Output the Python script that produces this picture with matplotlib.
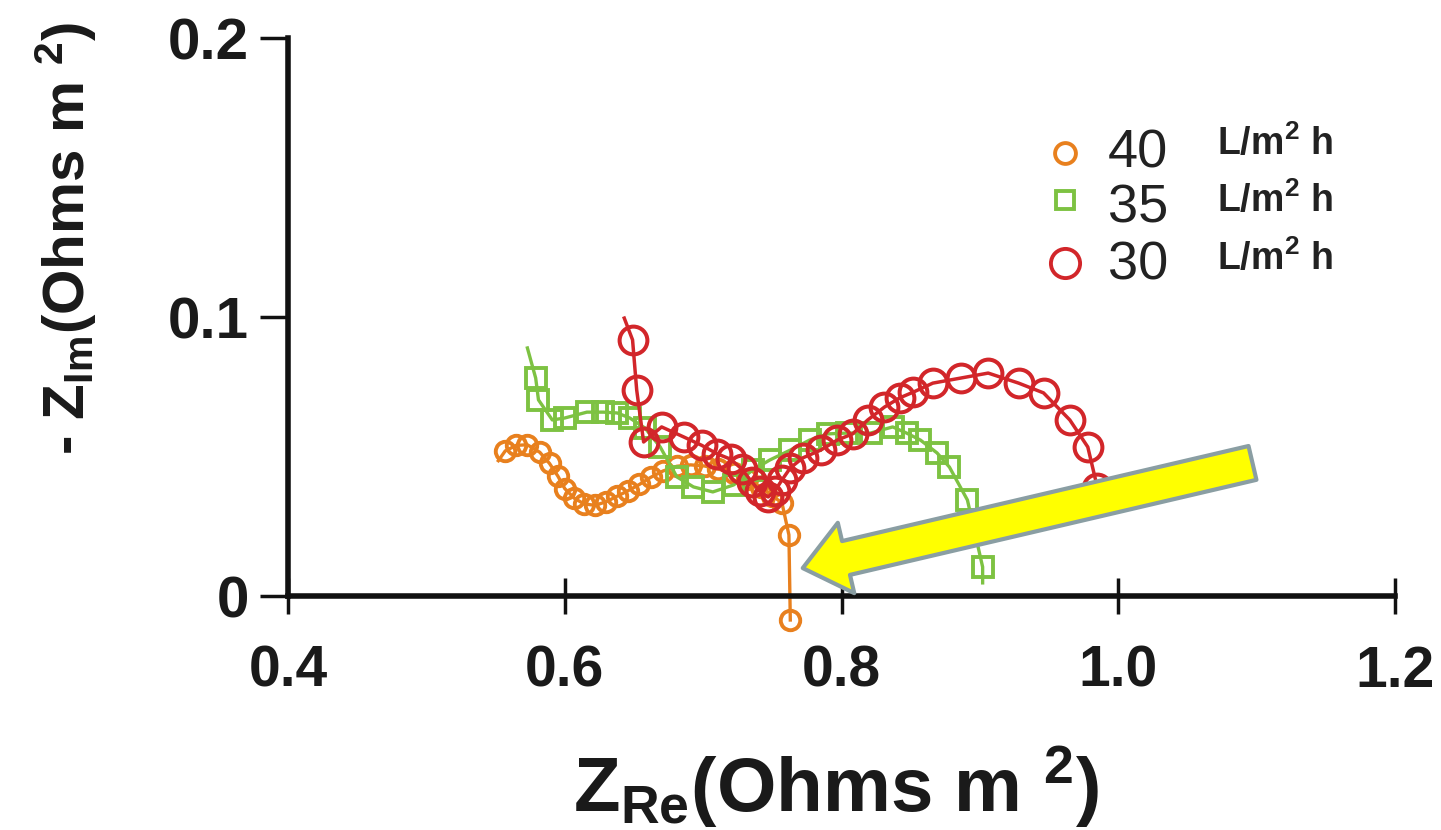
import matplotlib
matplotlib.use("Agg")
import matplotlib.pyplot as plt

plt.rcParams["font.family"] = ["Liberation Sans", "DejaVu Sans"]
plt.rcParams["mathtext.fontset"] = "custom"
plt.rcParams["mathtext.rm"] = "Liberation Sans:bold"
plt.rcParams["mathtext.bf"] = "Liberation Sans:bold"
plt.rcParams["mathtext.it"] = "Liberation Sans:bold"

# data (Z_Re, -Z_Im in Ohms m2)
x_40 = [0.552, 0.557, 0.565, 0.573, 0.582, 0.589, 0.595, 0.600, 0.607, 0.614,
        0.622, 0.630, 0.638, 0.646, 0.654, 0.662, 0.671, 0.681, 0.691, 0.701,
        0.711, 0.722, 0.732, 0.742, 0.750, 0.757, 0.762, 0.763]
y_40 = [0.0485, 0.0520, 0.0540, 0.0542, 0.0515, 0.0475, 0.0430, 0.0385, 0.0350, 0.0330,
        0.0325, 0.0338, 0.0358, 0.0378, 0.0400, 0.0425, 0.0448, 0.0465, 0.0470, 0.0466,
        0.0455, 0.0440, 0.0418, 0.0390, 0.0360, 0.0333, 0.0219, -0.0086]

x_35 = [0.573, 0.579, 0.581, 0.591, 0.600, 0.616, 0.628, 0.638, 0.647, 0.658,
        0.669, 0.681, 0.693, 0.707, 0.722, 0.736, 0.748, 0.763, 0.777, 0.790,
        0.804, 0.821, 0.837, 0.847, 0.857, 0.869, 0.878, 0.891, 0.902, 0.902]
y_35 = [0.0889, 0.0781, 0.0703, 0.0631, 0.0638, 0.0659, 0.0659, 0.0656, 0.0638, 0.0602,
        0.0534, 0.0427, 0.0391, 0.0373, 0.0398, 0.0452, 0.0487, 0.0523, 0.0559, 0.0581,
        0.0584, 0.0584, 0.0606, 0.0584, 0.0559, 0.0513, 0.0462, 0.0344, 0.0104, 0.0047]

x_30 = [0.643, 0.649, 0.652, 0.657, 0.670, 0.686, 0.699, 0.710, 0.720, 0.728,
        0.735, 0.741, 0.747, 0.752, 0.757, 0.763, 0.772, 0.785, 0.797, 0.808,
        0.819, 0.831, 0.842, 0.852, 0.866, 0.886, 0.906, 0.928, 0.946, 0.965,
        0.978, 0.985]
y_30 = [0.0996, 0.0918, 0.0738, 0.0552, 0.0606, 0.0570, 0.0540, 0.0510, 0.0490, 0.0455,
        0.0410, 0.0375, 0.0355, 0.0378, 0.0416, 0.0459, 0.0495, 0.0523, 0.0559, 0.0581,
        0.0631, 0.0677, 0.0710, 0.0731, 0.0763, 0.0781, 0.0799, 0.0763, 0.0728, 0.0631,
        0.0534, 0.0387]

series_labels = ["40", "35", "30"]
unit_label = "L/m$^{\\mathbf{2}}$ h"
x_ticks = [0.4, 0.6, 0.8, 1.0, 1.2]
x_tick_labels = ["0.4", "0.6", "0.8", "1.0", "1.2"]
y_ticks = [0, 0.1, 0.2]
y_tick_labels = ["0", "0.1", "0.2"]

c_orange = "#e8801e"
c_green = "#7dc242"
c_red = "#d2262a"

W, H = 1441, 830
fig = plt.figure(figsize=(W / 100, H / 100), dpi=100)
ax = fig.add_axes([288 / W, (H - 596) / H, (1395 - 288) / W, (596 - 38) / H])

ax.plot(x_40, y_40, color=c_orange, lw=2.4, marker="o", ms=14, mew=2.8,
        mfc="none", mec=c_orange, markevery=slice(1, None), clip_on=False)
ax.plot(x_35, y_35, color=c_green, lw=2.4, marker="s", ms=14, mew=2.8,
        mfc="none", mec=c_green, markevery=slice(1, -1), clip_on=False)
ax.plot(x_30, y_30, color=c_red, lw=2.5, marker="o", ms=20, mew=2.9,
        mfc="none", mec=c_red, markevery=slice(1, None), clip_on=False)

ax.set_xlim(0.4, 1.2)
ax.set_ylim(0, 0.2)
ax.set_xticks(x_ticks)
ax.set_xticklabels(x_tick_labels)
ax.set_yticks(y_ticks)
ax.set_yticklabels(y_tick_labels)

for s in ["top", "right"]:
    ax.spines[s].set_visible(False)
for s in ["left", "bottom"]:
    ax.spines[s].set_linewidth(4)
    ax.spines[s].set_color("#111111")

ax.tick_params(axis="x", direction="inout", length=26, width=2.5, pad=22,
               labelsize=41, color="#111111")
ax.tick_params(axis="y", direction="out", length=20, width=2.5, pad=8,
               labelsize=42, color="#111111")
for lab in ax.get_xticklabels() + ax.get_yticklabels():
    lab.set_fontweight("bold")
    lab.set_color("#1a1a1a")

# axis titles
fig.text(836 / W, 1 - 812 / H,
         "Z$_{\\mathbf{Re}}$(Ohms m $^{\\mathbf{2}}$)",
         fontsize=55, fontweight="bold", ha="center", va="baseline", color="#1a1a1a")
fig.text(66 / W, 1 - 238 / H,
         "- Z$_{\\mathbf{Im}}$(Ohms m $^{\\mathbf{2}}$)",
         fontsize=42, fontweight="bold", ha="center", va="center",
         rotation=90, color="#1a1a1a")

# legend drawn by hand (rows are unevenly spaced in the original)
leg_style = [(c_orange, "o", 15), (c_green, "s", 12.5), (c_red, "o", 21)]
leg_mark_y = [153, 200, 263]
leg_text_y = [167, 222, 280]
leg_unit_y = [155, 212, 270]
for (col, mk, size), my, ty, uy, lab in zip(leg_style, leg_mark_y, leg_text_y,
                                           leg_unit_y, series_labels):
    ax.plot([(1065 - 288) / 1107], [(596 - my) / 558], transform=ax.transAxes,
            marker=mk, ms=size, mew=2.8, mfc="none", mec=col, ls="none",
            clip_on=False)
    fig.text(1108 / W, 1 - ty / H, lab, fontsize=39, ha="left",
             va="baseline", color="#222222")
    fig.text(1217 / W, 1 - uy / H, unit_label, fontsize=27, fontweight="bold",
             ha="left", va="baseline", color="#222222")

# yellow arrow pointing at the orange curve crossing the axis
ax.annotate("", xy=(0.772, 0.0100), xytext=(1.097, 0.0477),
            arrowprops=dict(arrowstyle="simple,head_length=3.2,head_width=5.2,tail_width=2.5",
                            mutation_scale=10, fc="#ffff00", ec="#8a9ea3", lw=3,
                            shrinkA=0, shrinkB=0),
            annotation_clip=False)

fig.savefig("out.png", dpi=100)
